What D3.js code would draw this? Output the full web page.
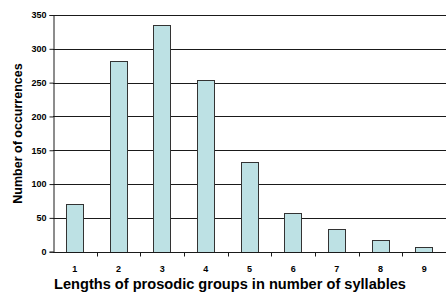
<!DOCTYPE html>
<html>
<head>
<meta charset="utf-8">
<script src="https://cdn.jsdelivr.net/npm/d3@7"></script>
<style>
body { margin: 0; background: #fff; }
svg { display: block; font-family: "Liberation Sans", Arial, sans-serif; }
</style>
</head>
<body>
<svg></svg>
<script>
//Chart data
var categories = ["1", "2", "3", "4", "5", "6", "7", "8", "9"];
var counts = [71, 282, 335, 254, 132, 57, 34, 17, 7];
var yTicks = [0, 50, 100, 150, 200, 250, 300, 350];

//Canvas settings
var width = 446;
var height = 293;
var margin = {top: 15, right: 0, bottom: 42, left: 53};

var svg = d3.select("svg")
	.attr("width", width)
	.attr("height", height);

var x = d3.scaleBand()
	.domain(categories)
	.range([margin.left, width - margin.right])
	.paddingInner(0.6)
	.paddingOuter(0.3);

var y = d3.scaleLinear()
	.domain([0, 350])
	.range([height - margin.bottom + 0.7, margin.top]);

//gridlines
svg.append("g")
	.selectAll("line")
	.data(yTicks.slice(1))
	.enter().append("line")
	.attr("x1", margin.left)
	.attr("x2", width)
	.attr("y1", function(d) { return Math.round(y(d)) + 0.5; })
	.attr("y2", function(d) { return Math.round(y(d)) + 0.5; })
	.attr("stroke", "#1a1a1a")
	.attr("stroke-width", 1);

//bars
svg.append("g")
	.selectAll("rect")
	.data(counts)
	.enter().append("rect")
	.attr("x", function(d, i) { return Math.round(x(categories[i])) + 0.5; })
	.attr("y", function(d) { return Math.round(y(d)) + 0.5; })
	.attr("width", Math.round(x.bandwidth()))
	.attr("height", function(d) { return Math.round(y(0)) - Math.round(y(d)); })
	.attr("fill", "#bde1e4")
	.attr("stroke", "#333")
	.attr("stroke-width", 1);

//y axis
var yAxis = svg.append("g")
	.attr("transform", "translate(" + (margin.left + 0.5) + ",0)")
	.call(d3.axisLeft(y).tickValues(yTicks).tickSize(4).tickPadding(3));
yAxis.select(".domain").attr("stroke", "#1a1a1a");
yAxis.selectAll(".tick line").attr("stroke", "#1a1a1a");
yAxis.selectAll(".tick text")
	.attr("font-size", "9px")
	.attr("font-weight", "bold")
	.attr("fill", "#000")
	.attr("font-family", "Liberation Sans, Arial, sans-serif");

//x axis, ticks between categories
var xBase = Math.round(y(0)) + 0.5;
var xAxis = svg.append("g");
xAxis.append("line")
	.attr("x1", margin.left)
	.attr("x2", width)
	.attr("y1", xBase)
	.attr("y2", xBase)
	.attr("stroke", "#1a1a1a");
var step = x.step();
xAxis.selectAll(".sep")
	.data(categories.slice(1))
	.enter().append("line")
	.attr("class", "sep")
	.attr("x1", function(d) { return Math.round(x(d) - x.paddingInner() * step / 2) + 0.5; })
	.attr("x2", function(d) { return Math.round(x(d) - x.paddingInner() * step / 2) + 0.5; })
	.attr("y1", xBase)
	.attr("y2", xBase + 4)
	.attr("stroke", "#1a1a1a");
xAxis.selectAll("text")
	.data(categories)
	.enter().append("text")
	.attr("x", function(d) { return x(d) + x.bandwidth() / 2; })
	.attr("y", 272)
	.attr("text-anchor", "middle")
	.attr("font-size", "9px")
	.attr("font-weight", "bold")
	.text(function(d) { return d; });

//axis titles
svg.append("text")
	.attr("x", 230)
	.attr("y", 288.5)
	.attr("text-anchor", "middle")
	.attr("font-size", "14.6px")
	.attr("font-weight", "bold")
	.text("Lengths of prosodic groups in number of syllables");

svg.append("text")
	.attr("transform", "translate(21.5," + 133.5 + ") rotate(-90)")
	.attr("text-anchor", "middle")
	.attr("font-size", "12.5px")
	.attr("font-weight", "bold")
	.text("Number of occurrences");
</script>
</body>
</html>
